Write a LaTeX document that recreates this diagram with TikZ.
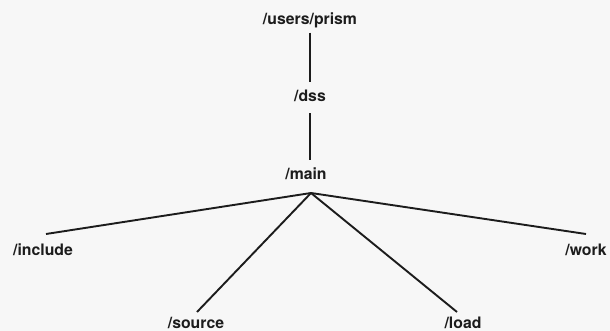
\documentclass[tikz,border=0pt]{standalone}
\usepackage{fontspec}
\setmainfont{TeX Gyre Heros}
\definecolor{bgc}{HTML}{F7F7F7}
\definecolor{inkc}{HTML}{1C1C1C}
\begin{document}
\begin{tikzpicture}[x=1pt,y=-1pt,
  lbl/.style={font=\fontsize{15.8}{18}\selectfont\bfseries, text=inkc, inner xsep=0pt},
  edge/.style={draw=inkc, line width=1.9pt}]
\fill[bgc] (0,0) rectangle (610,331);
\useasboundingbox (0,0) rectangle (610,331);
\node[lbl, anchor=north, inner ysep=4.5pt] (users) at (310,8) {/users/prism};
\node[lbl, anchor=north, inner ysep=8pt] (dss) at (310,82) {/dss};
\node[lbl, anchor=north, inner ysep=7.5pt] (main) at (306,160) {/main};
\coordinate (apex) at (311,193);
\node[lbl, anchor=north, inner ysep=9.5pt] (include) at (43,234) {/include};
\node[lbl, anchor=north, inner ysep=10pt] (work) at (586,234) {/work};
\node[lbl, anchor=north, inner ysep=5pt] (source) at (196,312) {/source};
\node[lbl, anchor=north, inner ysep=5pt] (load) at (463,312) {/load};
\draw[edge] (users.south) -- (dss.north);
\draw[edge, shorten <=3pt] (dss.south) -- (dss.south |- main.north);
\draw[edge] (apex) -- ([xshift=3pt]include.north);
\draw[edge] (apex) -- ([xshift=1pt]source.north);
\draw[edge] (apex) -- ([xshift=-6pt]load.north);
\draw[edge] (apex) -- (work.north);
\end{tikzpicture}
\end{document}
